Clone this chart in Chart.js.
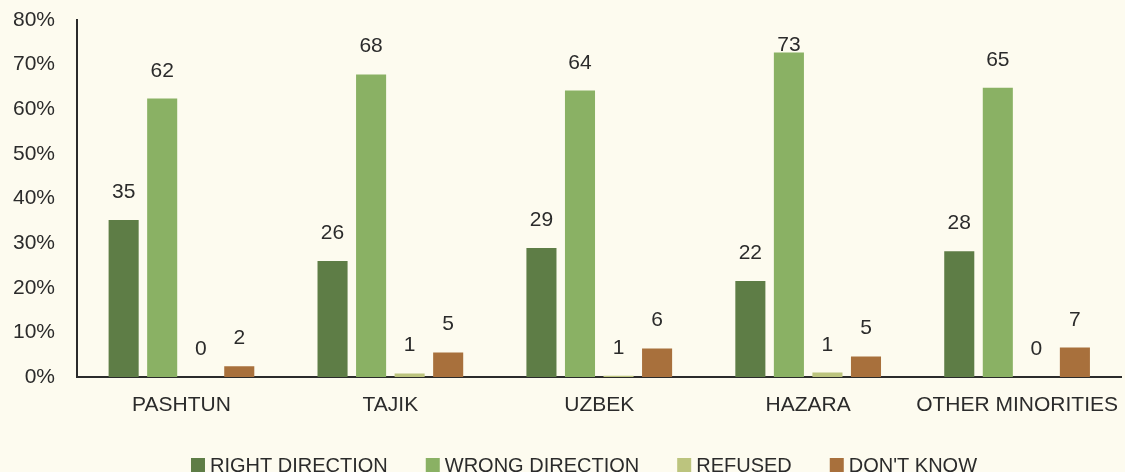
<!DOCTYPE html>
<html>
<head>
<meta charset="utf-8">
<script src="https://cdn.jsdelivr.net/npm/chart.js@4"></script>
<style>
  html, body { margin: 0; padding: 0; background: #fdfbef; overflow: hidden; }
  #wrap { position: relative; width: 1134px; height: 472px; }
</style>
</head>
<body>
<div id="wrap"><canvas id="dirChart"></canvas></div>
<script>
// categories and series
const categories = ["PASHTUN", "TAJIK", "UZBEK", "HAZARA", "OTHER MINORITIES"];
const seriesNames = ["RIGHT DIRECTION", "WRONG DIRECTION", "REFUSED", "DON'T KNOW"];

// bar heights (%)
const rightDir  = [35.2, 26.0, 28.9, 21.5, 28.2];
const wrongDir  = [62.4, 67.8, 64.2, 72.7, 64.8];
const refused   = [0.0, 0.8, 0.3, 1.0, 0.0];
const dontKnow  = [2.4, 5.5, 6.4, 4.6, 6.6];

// printed value labels
const rightLbl  = [35, 26, 29, 22, 28];
const wrongLbl  = [62, 68, 64, 73, 65];
const refLbl    = [0, 1, 1, 1, 0];
const dkLbl     = [2, 5, 6, 5, 7];

const yTicks = [0, 10, 20, 30, 40, 50, 60, 70, 80];

const colors = ["#5e7d46", "#8ab164", "#bcc47e", "#a8703c"];
const FONT = "'Liberation Sans', Arial, sans-serif";
const TXT = "#2b2b2b";
const FS = 21;

Chart.defaults.font.family = FONT;
Chart.defaults.font.size = FS;
Chart.defaults.color = TXT;

// numbers above each bar (kept below the top edge like the original)
const valueLabels = {
  id: "valueLabels",
  afterDatasetsDraw(chart) {
    const ctx = chart.ctx;
    ctx.save();
    ctx.font = FS + "px " + FONT;
    ctx.fillStyle = TXT;
    ctx.textAlign = "center";
    ctx.textBaseline = "alphabetic";
    chart.data.datasets.forEach((ds, i) => {
      chart.getDatasetMeta(i).data.forEach((bar, j) => {
        const y = Math.max(bar.y - 22, 51);
        ctx.fillText(String(ds.printed[j]), bar.x, y);
      });
    });
    ctx.restore();
  }
};

// legend row along the bottom edge
const bottomLegend = {
  id: "bottomLegend",
  afterDraw(chart) {
    const ctx = chart.ctx;
    const box = 14, gap = 5, spacing = 38;
    ctx.save();
    ctx.font = "20px " + FONT;
    const items = chart.data.datasets.map(ds => ({
      text: ds.label, color: ds.backgroundColor, w: ctx.measureText(ds.label).width
    }));
    const total = items.reduce((s, it) => s + box + gap + it.w, 0) + spacing * (items.length - 1);
    let x = 584 - total / 2;
    const base = 472;
    items.forEach(it => {
      ctx.fillStyle = it.color;
      ctx.fillRect(x, base - 14, box, box);
      x += box + gap;
      ctx.fillStyle = TXT;
      ctx.textAlign = "left";
      ctx.textBaseline = "alphabetic";
      ctx.fillText(it.text, x, base);
      x += it.w + spacing;
    });
    ctx.restore();
  }
};

const dataSets = [
  [rightDir, rightLbl],
  [wrongDir, wrongLbl],
  [refused, refLbl],
  [dontKnow, dkLbl],
].map(([vals, lbl], i) => ({
  label: seriesNames[i],
  data: vals,
  printed: lbl,
  backgroundColor: colors[i],
  borderWidth: 0,
  categoryPercentage: 0.738,
  barPercentage: 0.78,
}));

new Chart(document.getElementById("dirChart"), {
  type: "bar",
  data: { labels: categories, datasets: dataSets },
  options: {
    responsive: true,
    maintainAspectRatio: false,
    animation: false,
    layout: { padding: { top: 20, right: 0, bottom: 53, left: 0 } },
    plugins: {
      legend: { display: false },
      tooltip: { enabled: false },
    },
    scales: {
      x: {
        grid: { display: false, drawTicks: false },
        border: { display: true, color: "#2b2b2b", width: 2 },
        ticks: { padding: 16, maxRotation: 0, autoSkip: false },
        afterFit(scale) { scale.height = 42; },
      },
      y: {
        min: 0,
        max: 80,
        afterBuildTicks(scale) { scale.ticks = yTicks.map(v => ({ value: v })); },
        grid: { display: false, drawTicks: false },
        border: { display: true, color: "#2b2b2b", width: 2 },
        ticks: { padding: 22, callback: v => v + "%" },
        afterFit(scale) {
          scale.width = 77;
          scale.paddingTop = 0;
          scale.paddingBottom = 0;
        },
      },
    },
  },
  plugins: [valueLabels, bottomLegend],
});
</script>
</body>
</html>
